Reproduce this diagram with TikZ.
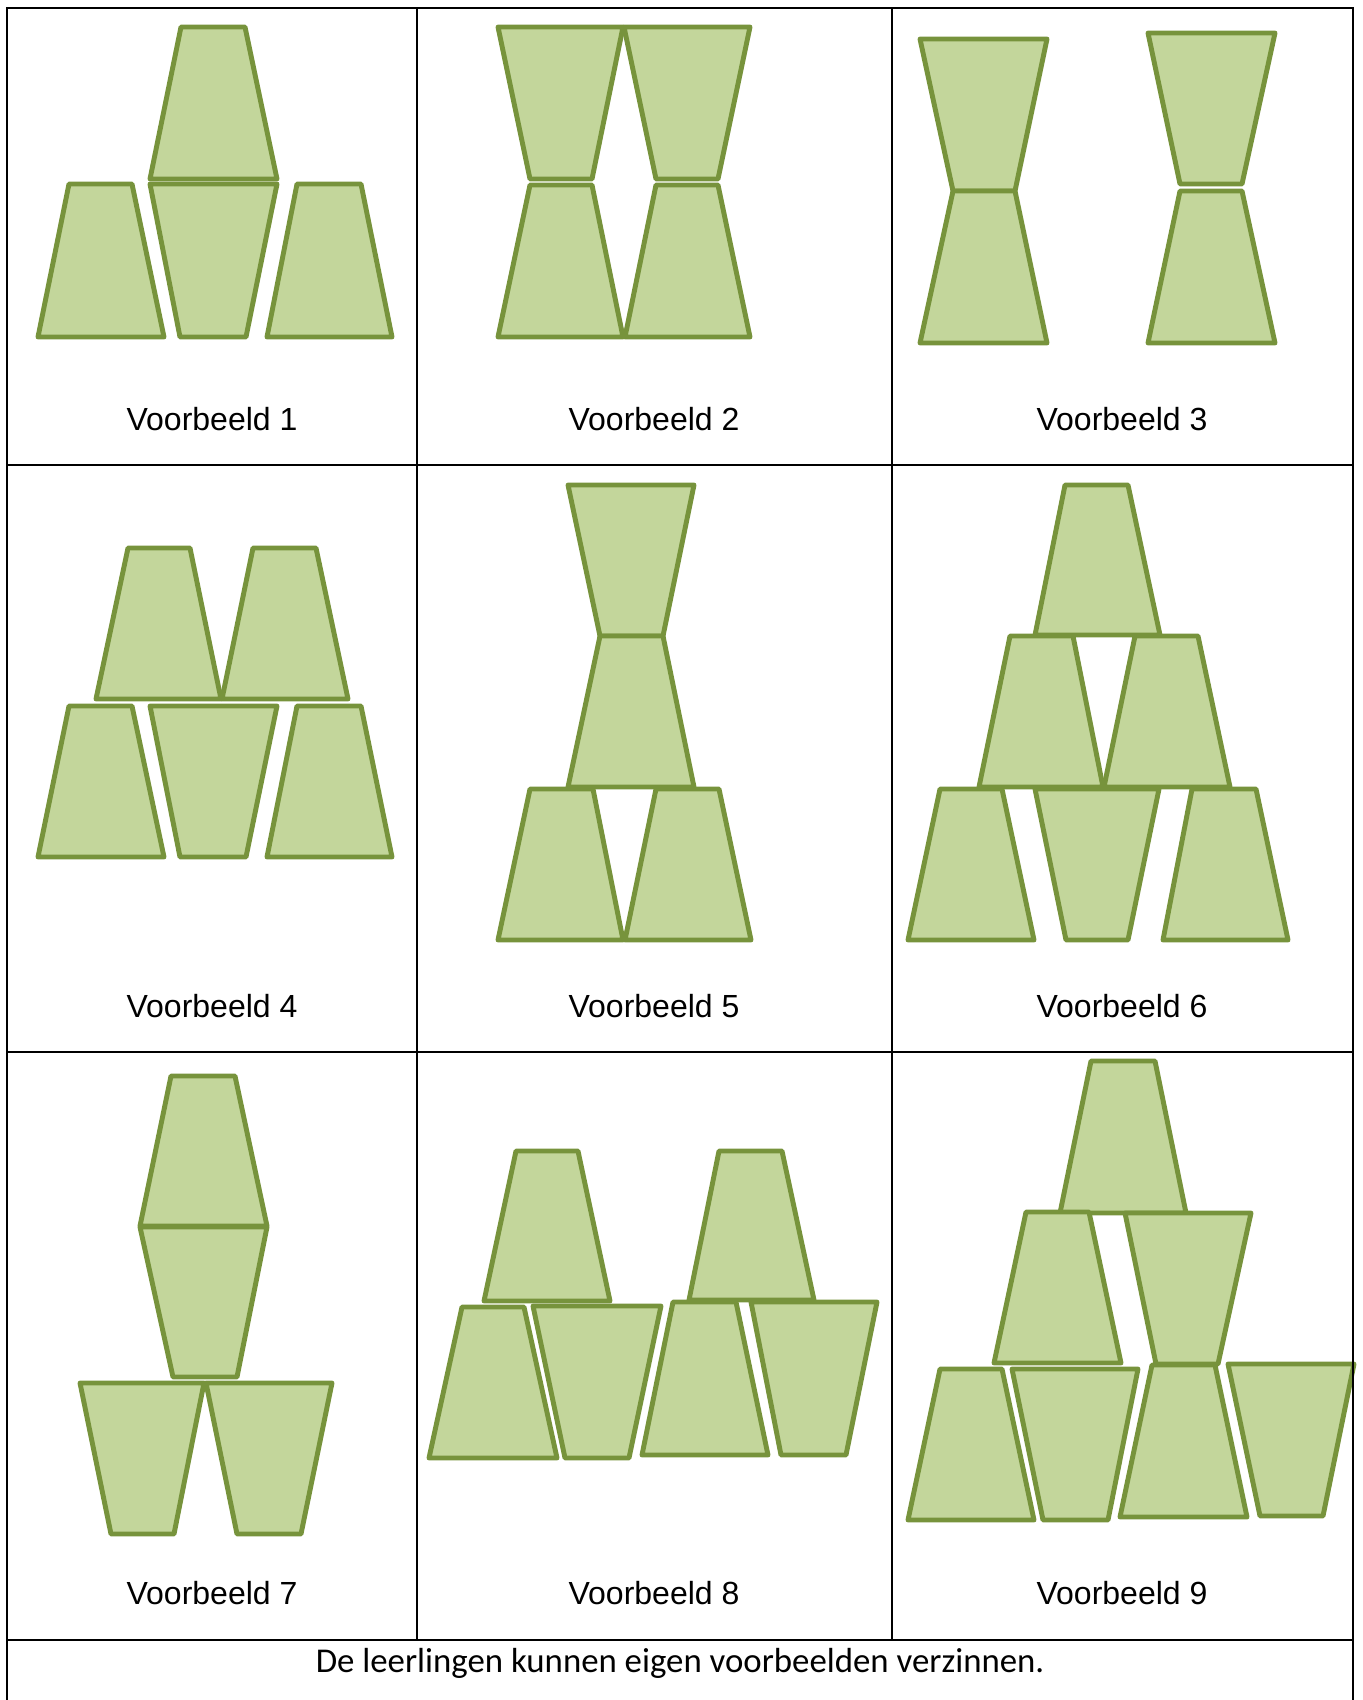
\documentclass[tikz,border=0pt]{standalone}
\usepackage{fontspec}
\setmainfont{Liberation Sans}
\newfontfamily\carlito{Carlito}
\definecolor{cupfill}{HTML}{C3D69B}
\definecolor{cupline}{HTML}{77933C}
\tikzset{
  cup/.style={draw=cupline, fill=cupfill, line width=1.4pt, line join=round},
  grid/.style={draw=black, line width=0.75pt},
  caption/.style={anchor=base, inner sep=0pt, font=\fontsize{9.1}{11}\selectfont}
}
\begin{document}
\begin{tikzpicture}[x=0.01cm, y=-0.01cm]
    \useasboundingbox (0,0) rectangle (1362,1700);

    % Voorbeeld 1
    \draw[cup] (181,27) -- (245,27) -- (277,179) -- (150,179) -- cycle;
    \draw[cup] (69,184) -- (132,184) -- (164,337) -- (38,337) -- cycle;
    \draw[cup] (150,184) -- (277,184) -- (246,337) -- (180,337) -- cycle;
    \draw[cup] (297,184) -- (361,184) -- (392,337) -- (267,337) -- cycle;

    % Voorbeeld 2
    \draw[cup] (498,27) -- (623,27) -- (592,179) -- (530,179) -- cycle;
    \draw[cup] (624,27) -- (750,27) -- (718,179) -- (656,179) -- cycle;
    \draw[cup] (530,185) -- (592,185) -- (623,337) -- (498,337) -- cycle;
    \draw[cup] (656,185) -- (718,185) -- (750,337) -- (625,337) -- cycle;

    % Voorbeeld 3
    \draw[cup] (920,39) -- (1047,39) -- (1015,191) -- (953,191) -- cycle;
    \draw[cup] (953,191) -- (1015,191) -- (1047,343) -- (920,343) -- cycle;
    \draw[cup] (1148,33) -- (1275,33) -- (1242,184) -- (1180,184) -- cycle;
    \draw[cup] (1180,191) -- (1242,191) -- (1275,343) -- (1148,343) -- cycle;

    % Voorbeeld 4
    \draw[cup] (128,548) -- (190,548) -- (221,699) -- (96,699) -- cycle;
    \draw[cup] (253,548) -- (316,548) -- (348,699) -- (222,699) -- cycle;
    \draw[cup] (69,706) -- (132,706) -- (164,857) -- (38,857) -- cycle;
    \draw[cup] (150,706) -- (277,706) -- (246,857) -- (180,857) -- cycle;
    \draw[cup] (297,706) -- (361,706) -- (392,857) -- (267,857) -- cycle;

    % Voorbeeld 5
    \draw[cup] (568,485) -- (694,485) -- (663,636) -- (600,636) -- cycle;
    \draw[cup] (600,636) -- (663,636) -- (694,787) -- (568,787) -- cycle;
    \draw[cup] (530,789) -- (593,789) -- (623,940) -- (498,940) -- cycle;
    \draw[cup] (656,789) -- (719,789) -- (751,940) -- (625,940) -- cycle;

    % Voorbeeld 6
    \draw[cup] (1065,485) -- (1128,485) -- (1160,635) -- (1035,635) -- cycle;
    \draw[cup] (1010,636) -- (1073,636) -- (1103,787) -- (979,787) -- cycle;
    \draw[cup] (1135,636) -- (1198,636) -- (1230,787) -- (1104,787) -- cycle;
    \draw[cup] (940,789) -- (1002,789) -- (1034,940) -- (908,940) -- cycle;
    \draw[cup] (1035,789) -- (1159,789) -- (1128,940) -- (1066,940) -- cycle;
    \draw[cup] (1192,789) -- (1256,789) -- (1288,940) -- (1163,940) -- cycle;

    % Voorbeeld 7
    \draw[cup] (171,1076) -- (235,1076) -- (267,1226) -- (140,1226) -- cycle;
    \draw[cup] (140,1227) -- (267,1227) -- (237,1377) -- (173,1377) -- cycle;
    \draw[cup] (80,1383) -- (204,1383) -- (174,1534) -- (111,1534) -- cycle;
    \draw[cup] (206,1383) -- (332,1383) -- (301,1534) -- (237,1534) -- cycle;

    % Voorbeeld 8
    \draw[cup] (516,1151) -- (578,1151) -- (610,1301) -- (484,1301) -- cycle;
    \draw[cup] (719,1151) -- (782,1151) -- (814,1300) -- (689,1300) -- cycle;
    \draw[cup] (462,1307) -- (524,1307) -- (557,1458) -- (429,1458) -- cycle;
    \draw[cup] (533,1306) -- (661,1306) -- (629,1458) -- (565,1458) -- cycle;
    \draw[cup] (673,1302) -- (736,1302) -- (768,1455) -- (642,1455) -- cycle;
    \draw[cup] (751,1302) -- (877,1302) -- (846,1455) -- (781,1455) -- cycle;

    % Voorbeeld 9
    \draw[cup] (1091,1061) -- (1155,1061) -- (1186,1213) -- (1060,1213) -- cycle;
    \draw[cup] (1026,1212) -- (1089,1212) -- (1121,1363) -- (994,1363) -- cycle;
    \draw[cup] (1125,1213) -- (1251,1213) -- (1218,1364) -- (1156,1364) -- cycle;
    \draw[cup] (940,1369) -- (1002,1369) -- (1034,1520) -- (908,1520) -- cycle;
    \draw[cup] (1012,1369) -- (1138,1369) -- (1108,1520) -- (1043,1520) -- cycle;
    \draw[cup] (1152,1365) -- (1215,1365) -- (1247,1517) -- (1120,1517) -- cycle;
    \draw[cup] (1228,1364) -- (1354,1364) -- (1323,1516) -- (1260,1516) -- cycle;

    % Table lines
    \draw[grid] (7,1700) -- (7,8) -- (1353,8) -- (1353,1700);
    \draw[grid] (7,465) -- (1353,465);
    \draw[grid] (7,1052) -- (1353,1052);
    \draw[grid] (7,1640) -- (1353,1640);
    \draw[grid] (417,8) -- (417,1640);
    \draw[grid] (892,8) -- (892,1640);

    % Captions
    \foreach \n/\x/\y in {1/212/430, 2/654/430, 3/1122/430,
                          4/212/1017, 5/654/1017, 6/1122/1017,
                          7/212/1604, 8/654/1604, 9/1122/1604}
        \node[caption] (v\n) at (\x,\y) {Voorbeeld \n};
    \node[anchor=base, inner sep=0pt, font=\carlito\fontsize{9.9}{12}\selectfont] (note) at (680,1672)
        {De leerlingen kunnen eigen voorbeelden verzinnen.};
\end{tikzpicture}
\end{document}
